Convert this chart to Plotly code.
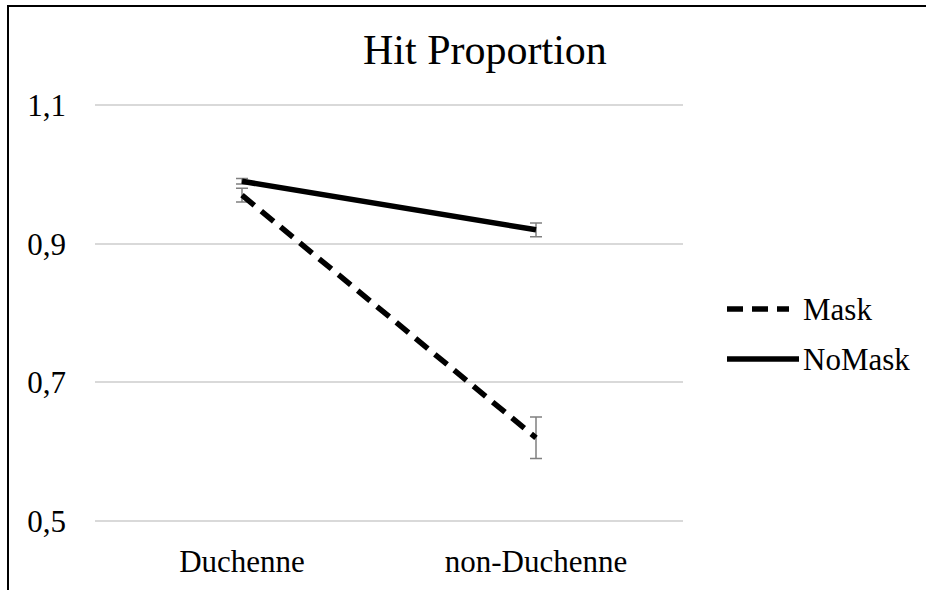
import plotly.graph_objects as go

categories = ["Duchenne", "non-Duchenne"]
series_names = ["Mask", "NoMask"]
mask_values = [0.97, 0.62]
mask_errors = [0.01, 0.03]
nomask_values = [0.99, 0.92]
nomask_errors = [0.004, 0.01]
y_ticks = [0.5, 0.7, 0.9, 1.1]
y_tick_labels = ["0,5", "0,7", "0,9", "1,1"]
title_text = "Hit Proportion"

FONT = "Times New Roman, Liberation Serif, serif"
W, H = 926, 590
L, R, T, B = 95, 243, 104, 68
pw, ph = W - L - R, H - T - B
Y_PAD = 0.0015

def px_x(x):
    return (x - L) / pw

def px_y(y):
    return (H - B - y) / ph

fig = go.Figure()
dashes = ["16px,9px", "solid"]
for name, vals, errs, dash in [
    (series_names[0], mask_values, mask_errors, dashes[0]),
    (series_names[1], nomask_values, nomask_errors, dashes[1]),
]:
    fig.add_trace(go.Scatter(
        x=categories, y=vals, name=name, mode="lines",
        line=dict(color="black", width=5.5, dash=dash),
        error_y=dict(type="data", array=errs, visible=True,
                     color="#808080", thickness=1.5, width=6),
        showlegend=False,
    ))

# manual legend (Excel style long line samples)
legend_y = [309, 359]
for name, dash, ly in zip(series_names, dashes, legend_y):
    fig.add_shape(type="line", xref="paper", yref="paper",
                  x0=px_x(727), x1=px_x(789 if dash != "solid" else 799),
                  y0=px_y(ly), y1=px_y(ly),
                  line=dict(color="black", width=5.5, dash=dash))
    fig.add_annotation(text=name, xref="paper", yref="paper",
                       x=px_x(801), y=px_y(ly), xanchor="left", yanchor="middle",
                       showarrow=False, font=dict(family=FONT, size=31, color="black"))

# chart border (cropped frame)
fig.add_shape(type="line", xref="paper", yref="paper",
              x0=px_x(8), x1=px_x(8), y0=px_y(6), y1=px_y(600),
              line=dict(color="black", width=2))
fig.add_shape(type="line", xref="paper", yref="paper",
              x0=px_x(7), x1=px_x(926), y0=px_y(6), y1=px_y(6),
              line=dict(color="black", width=2))

fig.add_annotation(text=title_text, xref="paper", yref="paper",
                   x=px_x(485), y=px_y(50), xanchor="center", yanchor="middle",
                   showarrow=False, font=dict(family=FONT, size=42, color="black"))

fig.update_layout(
    width=W, height=H,
    margin=dict(l=L, r=R, t=T, b=B, pad=0),
    paper_bgcolor="white", plot_bgcolor="white",
    font=dict(family=FONT, size=31, color="black"),
    showlegend=False,
)
fig.update_xaxes(
    type="category", range=[-0.5, 1.5], showgrid=False, zeroline=False,
    showline=False, ticks="", ticklabelstandoff=18,
    tickfont=dict(family=FONT, size=31, color="black"),
)
fig.update_yaxes(
    range=[y_ticks[0] - Y_PAD, y_ticks[-1] + Y_PAD], tickvals=y_ticks, ticktext=y_tick_labels,
    showgrid=True, gridcolor="#D9D9D9", gridwidth=1.5, zeroline=False,
    showline=False, ticks="", ticklabelstandoff=28,
    tickfont=dict(family=FONT, size=31, color="black"),
)

fig.write_html("out.html")
